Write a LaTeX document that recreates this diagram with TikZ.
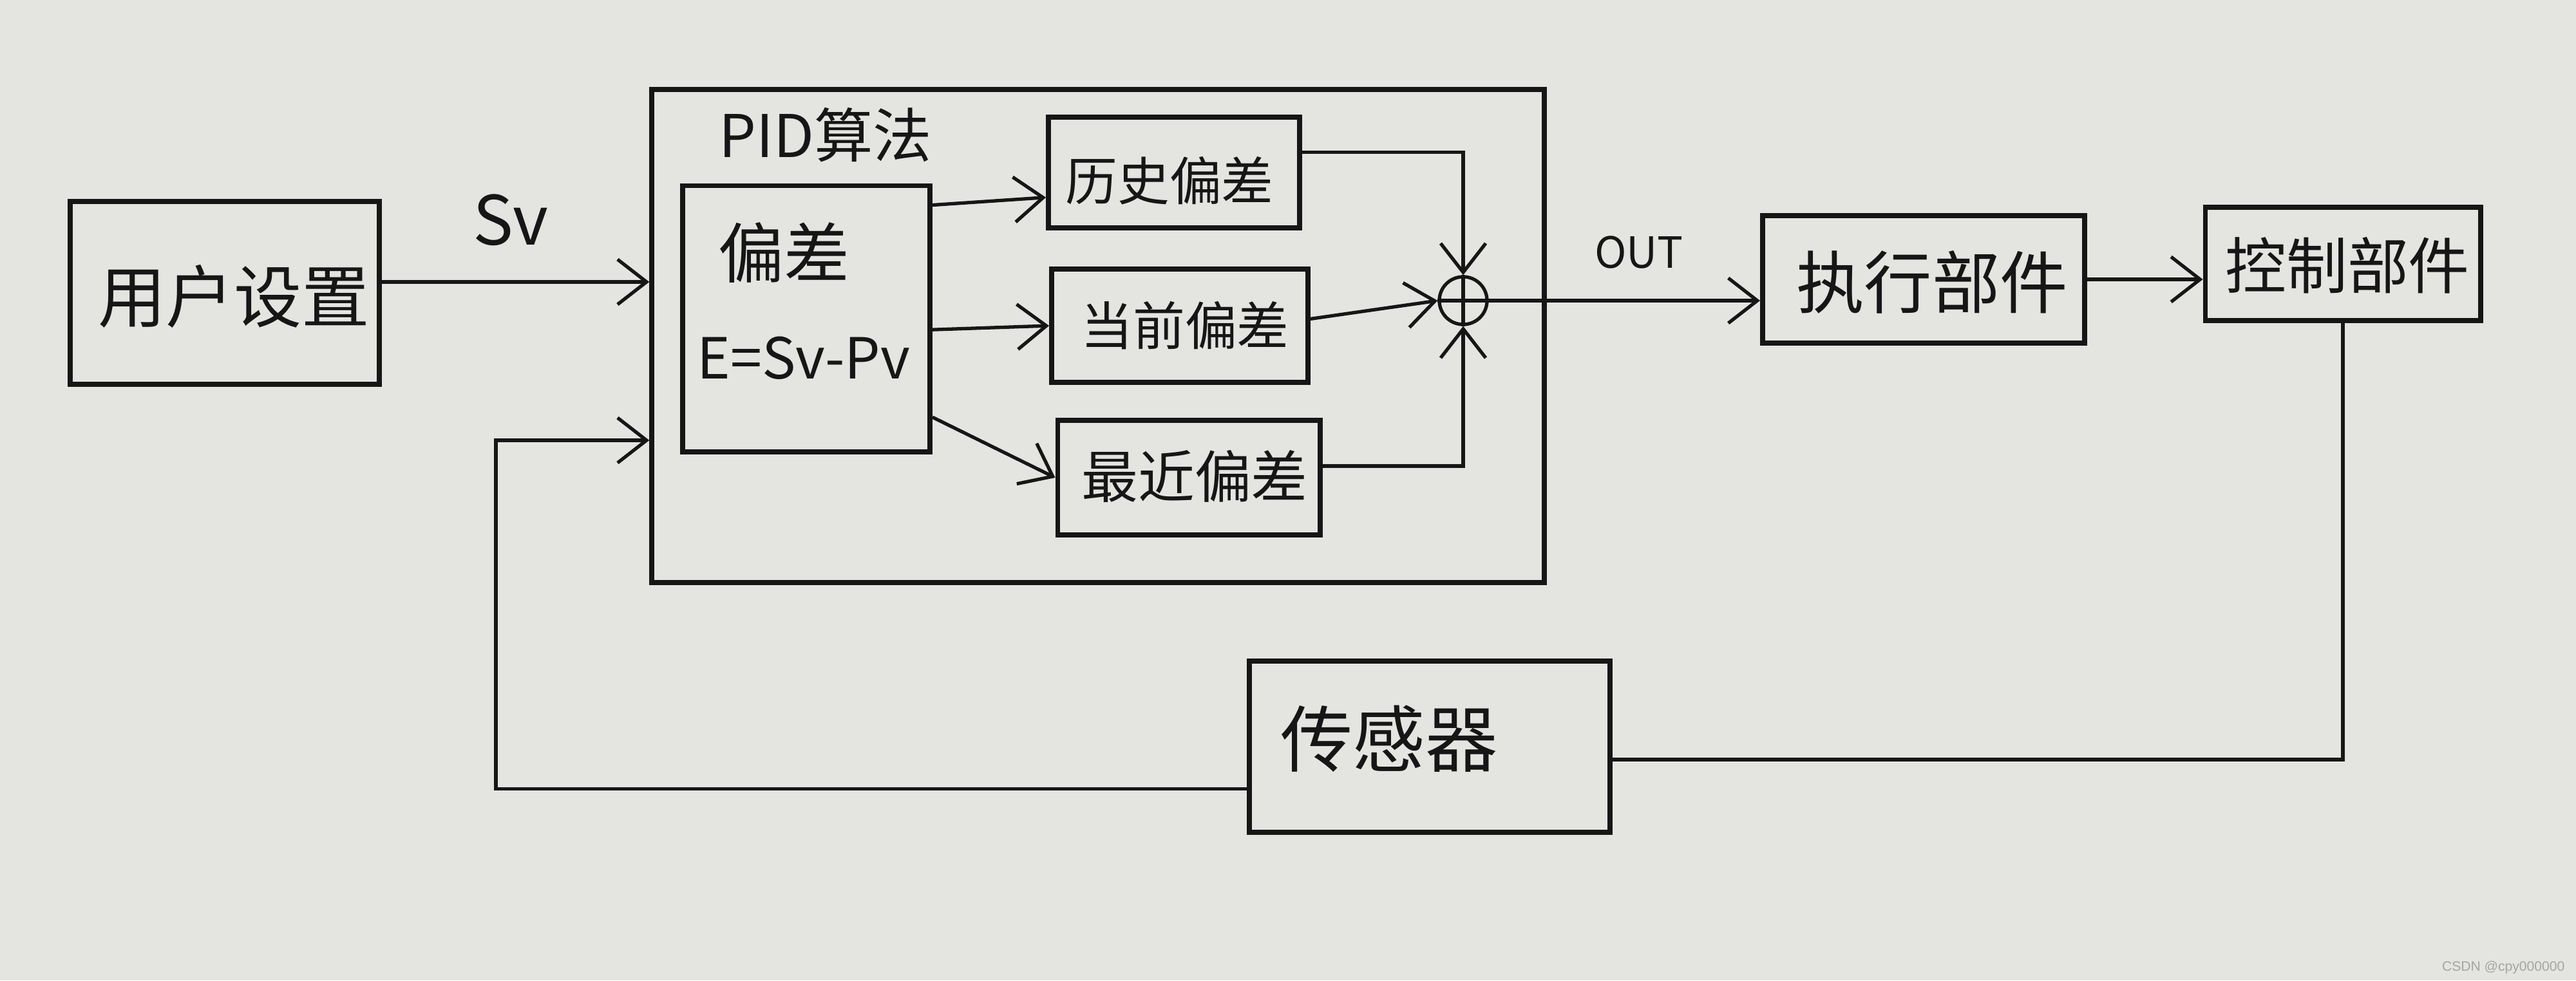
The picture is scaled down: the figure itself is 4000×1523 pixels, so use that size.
\documentclass[tikz,border=0pt]{standalone}
\usepackage{fontspec}
\newfontfamily\cjk{Noto Sans CJK SC}
\newfontfamily\wm{Liberation Sans}
\usetikzlibrary{arrows.meta,calc}
\definecolor{paper}{RGB}{228,228,225}
\definecolor{ink}{RGB}{22,22,22}
\definecolor{wmgray}{RGB}{165,165,165}
\begin{document}
\begin{tikzpicture}[x=0.01cm,y=-0.01cm,
  box/.style={draw=ink, line width=2.2pt, inner sep=0pt},
  lbl/.style={text=ink, inner sep=0pt},
  fs/.style={font=\cjk\fontsize{#1}{#1}\selectfont},
  conn/.style={draw=ink, line width=1.5pt},
  arr/.style={conn, -{Straight Barb[length=4.5mm,width=7mm]}}]
\fill[paper] (0,0) rectangle (4000,1523);
\useasboundingbox (0,0) rectangle (4000,1523);

% boxes
\node[box, minimum width=4.8cm, minimum height=2.84cm] (user) at (349,455) {};
\node[box, minimum width=13.85cm, minimum height=7.65cm] (pid) at (1705,522) {};
\node[box, minimum width=3.84cm, minimum height=4.13cm] (dev) at (1252,495) {};
\node[box, minimum width=3.9cm, minimum height=1.72cm] (hist) at (1823,268) {};
\node[box, minimum width=3.98cm, minimum height=1.76cm] (cur) at (1832,506) {};
\node[box, minimum width=4.07cm, minimum height=1.78cm] (rec) at (1846,742) {};
\node[draw=ink, line width=1.5pt, circle, minimum size=0.74cm, inner sep=0pt] (sum) at (2272,467) {};
\node[box, minimum width=5.0cm, minimum height=1.98cm] (exec) at (2987,434) {};
\node[box, minimum width=4.27cm, minimum height=1.76cm] (ctrl) at (3638,410) {};
\node[box, minimum width=5.6cm, minimum height=2.66cm] (sensor) at (2220,1160) {};

% texts
\node[lbl, fs=30] (usert) at (363,460) {用户设置};
\node[lbl, fs=30] (sv) at (793,342) {Sv};
\node[lbl, fs=26] (pidt) at (1282,210) {PID算法};
\node[lbl, fs=29] (devt) at (1217,392) {偏差};
\node[lbl, fs=25] (eq) at (1248,556) {E=Sv-Pv};
\node[lbl, fs=23] (histt) at (1816,281) {历史偏差};
\node[lbl, fs=23] (curt) at (1840,506) {当前偏差};
\node[lbl, fs=25] (rect) at (1855,740) {最近偏差};
\node[lbl, fs=19] (out) at (2545,392) {OUT};
\node[lbl, fs=30] (exect) at (3000,438) {执行部件};
\node[lbl, fs=27] (ctrlt) at (3645,412) {控制部件};
\node[lbl, fs=32] (sensort) at (2157,1148) {传感器};
\node[text=wmgray, inner sep=0pt, anchor=east, font=\wm\fontsize{6}{7}\selectfont] (wmark) at (3983,1503) {CSDN @cpy000000};

% summing junction cross
\draw[conn] (sum.north) -- (sum.south) (sum.west) -- (sum.east);

% connectors
\draw[arr] (user.4) -- (user.4 -| pid.west);
\draw[arr] (dev.42) -- (hist.191);
\draw[arr] (dev.-5) -- (cur.west);
\draw[arr] (dev.-38) -- (rec.west);
\draw[arr] (hist.9) -| (sum.north);
\draw[arr] (cur.3) -- (sum.west);
\draw[arr] (rec.5) -| (sum.south);
\draw[arr] (sum.east) -- (sum.east -| exec.west);
\draw[arr] (exec.east) -- (exec.east -| ctrl.west);
\draw[conn] (ctrl.south) |- (sensor.-4);
\coordinate (fb) at (770,684);
\draw[arr] (sensor.193) -| (fb) -- (fb -| pid.west);
\end{tikzpicture}
\end{document}
